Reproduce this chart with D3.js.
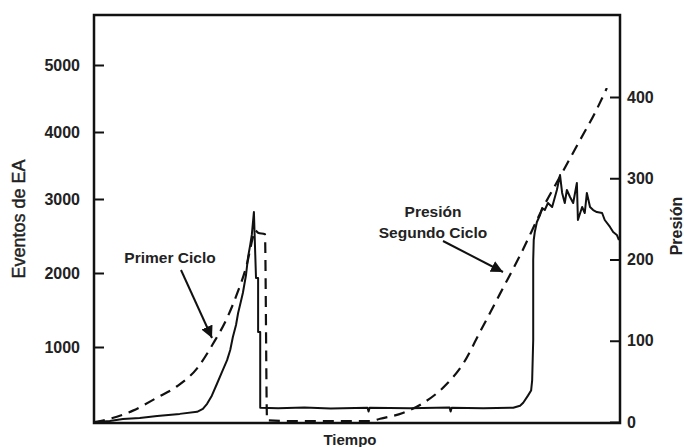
<!DOCTYPE html>
<html>
<head>
<meta charset="utf-8">
<script src="https://cdn.jsdelivr.net/npm/d3@7"></script>
<style>
  body { margin: 0; background: #fff; }
  text { font-family: "Liberation Sans", Arial, sans-serif; fill: #222; }
</style>
</head>
<body>
<div class="graphHolder"></div>
<script>
// Eventos de EA (solid line, left axis)
let tiempoEA = [0, 3, 5.5, 8.7, 12, 16.3, 19.6, 20.7, 21.5, 22.4, 23.4, 24.3, 25.3, 25.9, 26.4, 27, 27.4, 27.9, 28.3, 28.9, 29.3, 29.7, 30, 30.4,
  30.8, 31.2, 31.2, 31.6, 31.6, 35, 40, 45, 52, 52.2, 52.4, 60, 67.6, 67.8, 68, 74, 79.7, 81, 81.6, 82.5, 83.1, 83.3, 83.5, 83.5, 83.5, 83.6, 83.8, 84.2,
  84.8, 85.2, 85.7, 86.3, 87.1, 88, 88.6, 89, 89.5, 89.9, 90.5, 91.1, 91.8, 92, 92.8, 93.3, 93.7, 94.3, 94.9, 95.6, 96.6, 97.1, 98.1, 98.7, 99.4, 99.8];
let eventosEA = [10, 27, 53, 67, 93, 120, 147, 187, 253, 360, 520, 667, 827, 960, 1135, 1297, 1460, 1608, 1730, 1973, 2220, 2380, 2515, 2824,
  1932, 1932, 1203, 1203, 200, 195, 205, 190, 200, 150, 200, 195, 205, 150, 200, 195, 200, 227, 267, 360, 427, 560, 1095, 1635, 2176, 2446, 2554, 2689,
  2784, 2878, 2851, 2946, 2892, 3134, 3358, 3090, 2946, 3134, 3030, 2946, 3239, 2716, 2892, 2811, 3090, 2892, 2851, 2824, 2811, 2716, 2622, 2554, 2514, 2446];

// Presion (dashed line, right axis)
let tiempoPresion = [0, 3, 7.4, 12, 15.8, 19.6, 22.6, 25.3, 27.2, 29.1, 30.2, 30.6, 31.2, 32.5, 32.9, 39, 46, 52.5, 54.4, 58.7, 62.5, 67.1, 70.2,
  73.4, 77.2, 81, 85.7, 88.6, 92.4, 95.2, 97.5];
let presion = [0, 4, 14, 30, 44, 66, 96, 128, 158, 195, 227, 236, 233, 231, 2, 1, 1, 1, 4, 11, 23, 47, 72,
  111, 158, 205, 268, 302, 347, 380, 411];

let leftTicks = [1000, 2000, 3000, 4000, 5000];
let rightTicks = [0, 100, 200, 300, 400];

let w = 684, h = 447,
  plotLeft = 94, plotRight = 620, plotTop = 15, plotBottom = 423;

let svg = d3.select(".graphHolder")
  .append("svg")
  .attr("width", w)
  .attr("height", h);

svg.append("rect").attr("width", w).attr("height", h).attr("fill", "#fff");

let xScale = d3.scaleLinear().domain([0, 100]).range([plotLeft, plotRight]);
// the printed left axis is not evenly spaced, so the scale follows its ticks
let yLeft = d3.scaleLinear()
  .domain([0, 1000, 2000, 3000, 4000, 5000])
  .range([plotBottom, 347, 273, 199, 132, 65]);
let yRight = d3.scaleLinear().domain([0, 400]).range([422, 97]);

// axes, ticks pointing inwards
let yAxisL = d3.axisLeft(yLeft).tickValues(leftTicks).tickSize(-10).tickPadding(14).tickFormat(d3.format("d"));
let yAxisR = d3.axisRight(yRight).tickValues(rightTicks).tickSize(-10).tickPadding(7).tickFormat(d3.format("d"));

let gl = svg.append("g").attr("id", "y-axis").attr("transform", "translate(" + plotLeft + ",0)").call(yAxisL);
let gr = svg.append("g").attr("id", "y-axis-right").attr("transform", "translate(" + plotRight + ",0)").call(yAxisR);
[gl, gr].forEach(g => {
  g.select(".domain").remove();
  g.selectAll(".tick line").attr("stroke", "#111").attr("stroke-width", 2);
  g.selectAll(".tick text")
    .style("font-family", "'Liberation Sans', Arial, sans-serif")
    .style("font-size", "16px")
    .style("font-weight", "bold")
    .attr("fill", "#222");
});

// box
svg.append("rect")
  .attr("x", plotLeft).attr("y", plotTop)
  .attr("width", plotRight - plotLeft).attr("height", plotBottom - plotTop)
  .attr("fill", "none").attr("stroke", "#111").attr("stroke-width", 2.5);

// lines
let lineEA = d3.line()
  .x((d, i) => xScale(tiempoEA[i]))
  .y(d => yLeft(d));
let linePresion = d3.line()
  .x((d, i) => xScale(tiempoPresion[i]))
  .y(d => yRight(d))
  .curve(d3.curveMonotoneX);

svg.append("path")
  .datum(presion)
  .attr("d", linePresion)
  .attr("fill", "none")
  .attr("stroke", "#111")
  .attr("stroke-width", 2.2)
  .attr("stroke-dasharray", "11,7");

svg.append("path")
  .datum(eventosEA)
  .attr("d", lineEA)
  .attr("fill", "none")
  .attr("stroke", "#111")
  .attr("stroke-width", 2)
  .attr("stroke-linejoin", "round");

// axis labels
svg.append("text")
  .attr("transform", "translate(25,219) rotate(-90)")
  .attr("text-anchor", "middle")
  .style("font-size", "18px")
  .attr("stroke", "#222")
  .attr("stroke-width", 0.4)
  .text("Eventos de EA");

svg.append("text")
  .attr("transform", "translate(682,226) rotate(-90)")
  .attr("text-anchor", "middle")
  .style("font-size", "16px")
  .style("font-weight", "bold")
  .text("Presión");

svg.append("text")
  .attr("x", 350).attr("y", 445)
  .attr("text-anchor", "middle")
  .style("font-size", "15px")
  .style("font-weight", "bold")
  .text("Tiempo");

// annotations
svg.append("defs").append("marker")
  .attr("id", "head")
  .attr("viewBox", "0 0 10 10")
  .attr("refX", 10).attr("refY", 5)
  .attr("markerWidth", 6).attr("markerHeight", 6)
  .attr("markerUnits", "strokeWidth")
  .attr("orient", "auto")
  .append("path")
  .attr("d", "M0,0 L10,5 L0,10 z")
  .attr("fill", "#111");

svg.append("text")
  .attr("x", 170).attr("y", 263)
  .attr("text-anchor", "middle")
  .style("font-size", "15.5px")
  .style("font-weight", "bold")
  .text("Primer Ciclo");

svg.append("line")
  .attr("x1", 181).attr("y1", 270).attr("x2", 212).attr("y2", 338)
  .attr("stroke", "#111").attr("stroke-width", 2)
  .attr("marker-end", "url(#head)");

svg.append("text")
  .attr("x", 433).attr("y", 217)
  .attr("text-anchor", "middle")
  .style("font-size", "15.5px")
  .style("font-weight", "bold")
  .text("Presión");

svg.append("text")
  .attr("x", 433).attr("y", 238)
  .attr("text-anchor", "middle")
  .style("font-size", "15.5px")
  .style("font-weight", "bold")
  .text("Segundo Ciclo");

svg.append("line")
  .attr("x1", 443).attr("y1", 241).attr("x2", 503).attr("y2", 272)
  .attr("stroke", "#111").attr("stroke-width", 2)
  .attr("marker-end", "url(#head)");
</script>
</body>
</html>
